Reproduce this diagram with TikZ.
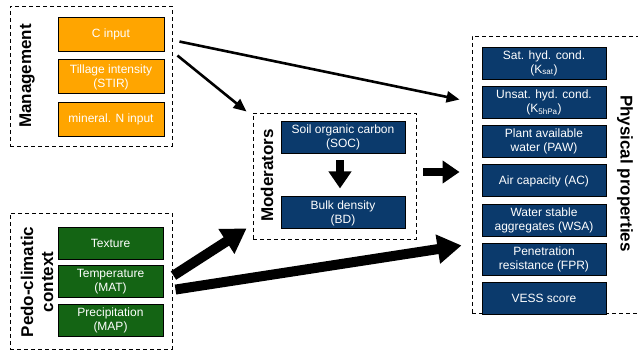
\documentclass[tikz,border=0pt]{standalone}
\usepackage{fontspec}
\setmainfont{Liberation Sans}
\usetikzlibrary{arrows.meta,positioning,calc}
\definecolor{mgmtorange}{HTML}{FFA500}
\definecolor{ctxgreen}{HTML}{146414}
\definecolor{propblue}{HTML}{0B3A6C}

\begin{document}
\begin{tikzpicture}[x=1pt, y=1pt,
    group/.style={draw, dash pattern=on 4pt off 3pt, line width=0.9pt, inner sep=0pt},
    box/.style={rectangle, draw=black, line width=0.9pt, text=white, align=center, inner sep=0pt, font=\fontsize{12}{14}\selectfont},
    mbox/.style={box, fill=mgmtorange, minimum width=106pt, minimum height=34pt},
    cbox/.style={box, fill=ctxgreen, minimum width=105pt, minimum height=32pt},
    pbox/.style={box, fill=propblue, minimum width=124pt, minimum height=32pt},
    grouplabel/.style={font=\fontsize{17}{20}\selectfont\bfseries, align=center, inner sep=0pt},
    arrow/.style={-{Triangle[length=13pt, width=11pt]}, line width=2.6pt},
    bigarrow/.style={-{Triangle[length=24pt, width=28pt]}, line width=10pt},
    blockarrow/.style={-{Triangle[length=17pt, width=22pt]}, line width=8pt}
]
    \useasboundingbox (0,0) rectangle (638,351);

    \node[group, minimum width=162pt, minimum height=140pt] (mgmt) at (91,275) {};
    \node[group, minimum width=162pt, minimum height=136pt] (pedo) at (91,70) {};
    \node[group, minimum width=163pt, minimum height=126pt] (moder) at (334.5,175) {};
    \node[group, minimum width=173pt, minimum height=277pt] (phys) at (558.5,176.5) {};

    \node[grouplabel, rotate=90] (mlabel) at (27,275) {Management};
    \node[grouplabel, rotate=90] (plabel) at (37,69) {Pedo-climatic\\context};
    \node[grouplabel, rotate=90] (olabel) at (267,175.5) {Moderators};
    \node[grouplabel, rotate=-90] (flabel) at (625,177.5) {Physical properties};

    \node[mbox] (cin) at (111,317) {C input};
    \node[mbox, below=8pt of cin] (till) {Tillage intensity\\(STIR)};
    \node[mbox, below=8pt of till] (nin) {mineral. N input};

    \node[cbox] (tex) at (110.5,108) {Texture};
    \node[cbox, below=6pt of tex] (mat) {Temperature\\(MAT)};
    \node[cbox, below=6pt of mat] (map) {Precipitation\\(MAP)};

    \node[pbox] (soc) at (343,214) {Soil organic carbon\\(SOC)};
    \node[pbox, below=43pt of soc] (bd) {Bulk density\\(BD)};

    \node[pbox] (ksat) at (544,288) {Sat. hyd. cond.\\(K\textsubscript{sat})};
    \node[pbox, below=6.4pt of ksat] (kunsat) {Unsat. hyd. cond.\\(K\textsubscript{5hPa})};
    \node[pbox, below=6.4pt of kunsat] (paw) {Plant available\\water (PAW)};
    \node[pbox, below=6.4pt of paw] (ac) {Air capacity (AC)};
    \node[pbox, below=6.4pt of ac] (wsa) {Water stable\\aggregates (WSA)};
    \node[pbox, below=6.4pt of wsa] (fpr) {Penetration\\resistance (FPR)};
    \node[pbox, below=6.4pt of fpr] (vess) {VESS score};

    \draw[arrow] ($(mgmt.north east)+(7,-36)$) -- ($(phys.north west)+(-12,-64)$);
    \draw[arrow] ($(mgmt.north east)+(5,-50)$) -- ($(moder.north west)+(-6,1)$);
    \draw[blockarrow] ($(soc.south)+(-3,-7)$) -- ($(bd.north)+(-3,8)$);
    \draw[blockarrow] ($(moder.east)+(7,4)$) -- ($(phys.west)+(-12,2.5)$);
    \draw[bigarrow] ($(pedo.north east)+(1,-63)$) -- ($(moder.south west)+(-6,11)$);
    \draw[bigarrow] ($(pedo.north east)+(3,-77)$) -- ($(phys.south west)+(-10,68)$);
\end{tikzpicture}
\end{document}
